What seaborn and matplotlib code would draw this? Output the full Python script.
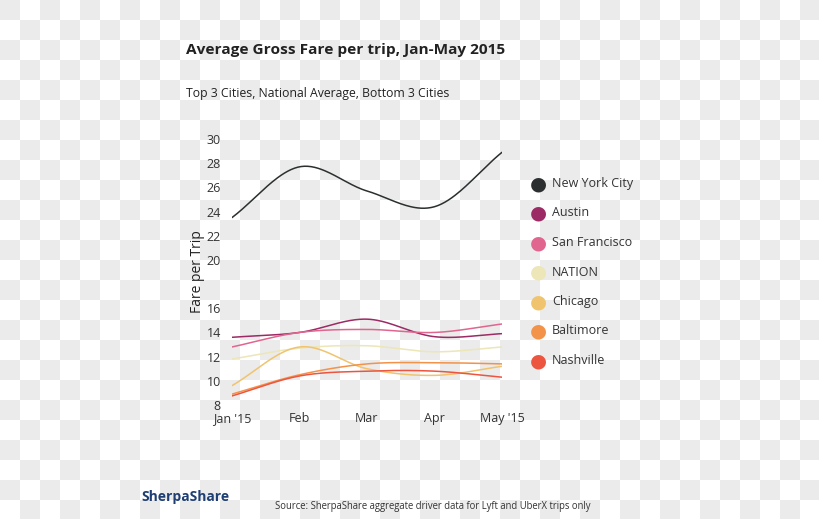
import numpy as np
import pandas as pd
import matplotlib
matplotlib.use("Agg")
import matplotlib.pyplot as plt
import seaborn as sns

months = ["Jan '15", "Feb", "Mar", "Apr", "May '15"]
series_names = ["New York City", "Austin", "San Francisco", "NATION", "Chicago", "Baltimore", "Nashville"]
nyc = [23.5, 27.7, 25.7, 24.4, 28.9]
austin = [13.6, 14.0, 15.1, 13.65, 13.9]
san_francisco = [12.8, 14.0, 14.25, 14.0, 14.7]
nation = [11.8, 12.7, 12.9, 12.4, 12.8]
chicago = [9.6, 12.8, 11.0, 10.45, 11.2]
baltimore = [8.9, 10.5, 11.4, 11.5, 11.4]
nashville = [8.75, 10.4, 10.8, 10.8, 10.3]
colors = ["#2b2f30", "#9c2a64", "#e0668f", "#ece6b8", "#f0c46e", "#f39249", "#ec5540"]
yticks = [8, 10, 12, 14, 16, 20, 22, 24, 26, 28, 30]

values = [nyc, austin, san_francisco, nation, chicago, baltimore, nashville]


def cardinal(y, n=40):
    """Catmull-Rom style smooth path through the data points."""
    y = np.asarray(y, float)
    x = np.arange(len(y), dtype=float)
    m = np.zeros_like(y)
    m[1:-1] = (y[2:] - y[:-2]) / 2.0
    m[0] = y[1] - y[0]
    m[-1] = y[-1] - y[-2]
    xs, ys = [], []
    for i in range(len(y) - 1):
        t = np.linspace(0, 1, n, endpoint=(i == len(y) - 2))
        h00 = 2 * t**3 - 3 * t**2 + 1
        h10 = t**3 - 2 * t**2 + t
        h01 = -2 * t**3 + 3 * t**2
        h11 = t**3 - t**2
        xs.append(x[i] + t)
        ys.append(h00 * y[i] + h10 * m[i] + h01 * y[i + 1] + h11 * m[i + 1])
    return np.concatenate(xs), np.concatenate(ys)


rows = []
for name, vals in zip(series_names, values):
    xs, ys = cardinal(vals)
    rows.append(pd.DataFrame({"x": xs, "fare": ys, "city": name}))
df = pd.concat(rows, ignore_index=True)

sns.set_theme(style="white")
plt.rcParams["font.family"] = ["Open Sans", "DejaVu Sans"]
W, H = 820, 519
fig = plt.figure(figsize=(W / 100, H / 100), dpi=100)

# checkerboard background (grey square at the top-left corner)
bgax = fig.add_axes([0, 0, 1, 1], zorder=-10)
rr, cc = np.mgrid[0:H, 0:W]
chk = ((rr // 20 + cc // 20) % 2 == 0)
bg = np.where(chk[..., None], np.array([235, 235, 235]) / 255.0, np.array([1.0, 1.0, 1.0]))
bgax.imshow(bg, origin="upper", extent=[0, W, H, 0], interpolation="nearest", aspect="auto")
bgax.set_xlim(0, W)
bgax.set_ylim(H, 0)
bgax.axis("off")

ax = fig.add_axes([232 / W, (H - 405) / H, 270 / W, 266 / H])
ax.set_zorder(2)
ax.patch.set_alpha(0)
sns.lineplot(data=df, x="x", y="fare", hue="city", hue_order=series_names,
             palette=colors, linewidth=1.1, ax=ax, legend=False, sort=False,
             estimator=None)
ax.set_xlim(0, 4)
ax.set_ylim(8, 30)
ax.set_xticks(range(5))
ax.set_xticklabels(months)
ax.set_yticks(yticks)
for s in ax.spines.values():
    s.set_visible(False)
ax.tick_params(axis="both", length=0, labelsize=9, colors="#333333")
ax.tick_params(axis="y", pad=8)
ax.tick_params(axis="x", pad=5)
ax.set_xlabel("")
ax.set_ylabel("Fare per Trip", fontsize=10, color="#222222", labelpad=1)
ax.grid(False)

# legend
leg_y = [184, 213, 243, 272, 302, 331, 361]
for name, col, yy in zip(series_names, colors, leg_y):
    fig.text(538 / W, 1 - yy / H, "\u25cf", color=col, fontsize=14,
             ha="center", va="center", family="DejaVu Sans", zorder=3)
    fig.text(552 / W, 1 - yy / H, name, color="#333333", fontsize=9,
             ha="left", va="center", zorder=3)

fig.text(186 / W, 1 - 50 / H, "Average Gross Fare per trip, Jan-May 2015",
         fontsize=11.1, fontweight="bold", color="#222222", ha="left", va="center")
fig.text(186 / W, 1 - 94 / H, "Top 3 Cities, National Average, Bottom 3 Cities",
         fontsize=8.8, color="#222222", ha="left", va="center")
fig.text(141 / W, 1 - 497 / H, "SherpaShare", fontsize=10, fontweight="bold",
         color="#1f3f73", ha="left", va="center")
fig.text(275 / W, 1 - 506 / H,
         "Source: SherpaShare aggregate driver data for Lyft and UberX trips only",
         fontsize=6.85, color="#333333", ha="left", va="center")

fig.savefig("out.png", dpi=100)
